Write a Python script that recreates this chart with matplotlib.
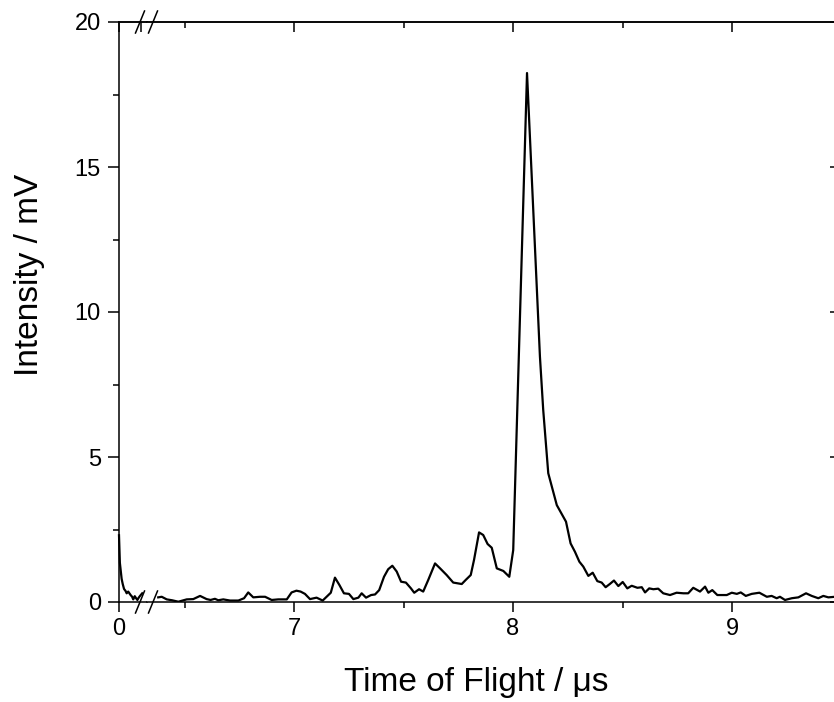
import matplotlib
matplotlib.use("Agg")
import matplotlib.pyplot as plt
from matplotlib.lines import Line2D
from matplotlib.ticker import MultipleLocator, FixedLocator

plt.rcParams['font.family'] = ['Liberation Sans', 'DejaVu Sans']

# start of the trace (left of the axis break), time in us, intensity in mV
t_start = [0.000, 0.004, 0.012, 0.017, 0.023, 0.030, 0.035, 0.042, 0.053,
           0.060, 0.065, 0.072, 0.078, 0.084, 0.090, 0.096, 0.106]
v_start = [2.30, 1.35, 0.80, 0.62, 0.45, 0.38, 0.30, 0.36, 0.24,
           0.18, 0.09, 0.20, 0.13, 0.07, 0.15, 0.21, 0.30]

# main part of the trace (right of the axis break)
t_main = [6.380, 6.396, 6.419, 6.443, 6.472, 6.510, 6.540, 6.571, 6.601, 6.619,
          6.639, 6.654, 6.677, 6.708, 6.746, 6.772, 6.791, 6.814, 6.845, 6.868,
          6.898, 6.928, 6.967, 6.989, 7.011, 7.030, 7.050, 7.073, 7.103, 7.131,
          7.168, 7.187, 7.207, 7.228, 7.251, 7.271, 7.294, 7.309, 7.329, 7.352,
          7.370, 7.389, 7.411, 7.430, 7.449, 7.469, 7.489, 7.511, 7.534, 7.549,
          7.571, 7.590, 7.613, 7.644, 7.667, 7.697, 7.727, 7.766, 7.784, 7.807,
          7.822, 7.845, 7.864, 7.884, 7.903, 7.926, 7.956, 7.983, 8.001, 8.064,
          8.123, 8.138, 8.161, 8.200, 8.242, 8.263, 8.283, 8.303, 8.321, 8.344,
          8.364, 8.385, 8.405, 8.423, 8.442, 8.461, 8.481, 8.501, 8.522, 8.542,
          8.568, 8.588, 8.603, 8.622, 8.641, 8.663, 8.686, 8.717, 8.747, 8.778,
          8.800, 8.823, 8.854, 8.877, 8.892, 8.910, 8.933, 8.955, 8.976, 8.999,
          9.022, 9.040, 9.063, 9.090, 9.125, 9.159, 9.181, 9.204, 9.219, 9.242,
          9.273, 9.303, 9.338, 9.364, 9.394, 9.417, 9.440, 9.466, 9.495]
v_main = [0.16, 0.18, 0.09, 0.06, 0.01, 0.09, 0.10, 0.21, 0.10, 0.07,
          0.11, 0.06, 0.09, 0.05, 0.05, 0.13, 0.33, 0.16, 0.18, 0.18,
          0.07, 0.09, 0.09, 0.33, 0.39, 0.36, 0.28, 0.10, 0.15, 0.05,
          0.32, 0.84, 0.59, 0.30, 0.28, 0.10, 0.15, 0.30, 0.15, 0.24,
          0.26, 0.41, 0.87, 1.13, 1.25, 1.05, 0.70, 0.67, 0.47, 0.32,
          0.44, 0.36, 0.76, 1.33, 1.16, 0.93, 0.67, 0.62, 0.76, 0.93,
          1.45, 2.40, 2.31, 2.00, 1.87, 1.16, 1.07, 0.87, 1.79, 18.24,
          8.46, 6.62, 4.44, 3.34, 2.77, 2.02, 1.73, 1.39, 1.22, 0.90,
          1.01, 0.72, 0.67, 0.51, 0.62, 0.74, 0.55, 0.69, 0.47, 0.56,
          0.49, 0.51, 0.33, 0.47, 0.44, 0.46, 0.30, 0.24, 0.32, 0.30,
          0.30, 0.49, 0.36, 0.53, 0.32, 0.41, 0.24, 0.24, 0.24, 0.32,
          0.28, 0.33, 0.21, 0.28, 0.32, 0.18, 0.21, 0.13, 0.18, 0.07,
          0.13, 0.16, 0.30, 0.21, 0.13, 0.21, 0.16, 0.18, 0.18]

y_ticks = [0, 5, 10, 15, 20]
x_ticks_start = [0]
x_ticks_main = [7, 8, 9]
x_minor_main = [6.5, 7.5, 8.5, 9.5]

W, H = 834, 702
fig = plt.figure(figsize=(W / 100, H / 100), dpi=100)


def px_box(x0, x1, y0, y1):
    return [x0 / W, 1 - y1 / H, (x1 - x0) / W, (y1 - y0) / H]


px_per_us = 219.0
x_zero = 119.0
x_split = 147.3
x_right = 839.5
ax0 = fig.add_axes(px_box(x_zero, x_split, 22, 602))
ax1 = fig.add_axes(px_box(x_split, x_right, 22, 602))

lw_axis = 1.1
lw_data = 1.6
tick_fs = 17
for ax in (ax0, ax1):
    for s in ax.spines.values():
        s.set_linewidth(lw_axis)
    ax.set_ylim(0, 20)
    ax.yaxis.set_major_locator(FixedLocator(y_ticks))
    ax.yaxis.set_minor_locator(MultipleLocator(2.5))

ax0.spines['right'].set_visible(False)
ax1.spines['left'].set_visible(False)

ax0.plot(t_start, v_start, color='black', lw=lw_data, clip_on=False)
ax1.plot(t_main, v_main, color='black', lw=lw_data)

ax0.set_xlim(0, (x_split - x_zero) / px_per_us)
ax1.set_xlim(7 - (294 - x_split) / px_per_us, 7 - (294 - x_right) / px_per_us)

# left axis: outward ticks with labels
ax0.tick_params(axis='y', which='both', direction='out', labelsize=tick_fs,
                width=lw_axis, right=False, pad=5)
ax0.tick_params(axis='y', which='major', length=8)
ax0.tick_params(axis='y', which='minor', length=4.5)
ax1.yaxis.tick_right()
ax1.tick_params(axis='y', which='both', direction='in', labelright=False,
                left=False, width=lw_axis)
ax1.tick_params(axis='y', which='major', length=7)
ax1.tick_params(axis='y', which='minor', length=4)

ax0.xaxis.set_major_locator(FixedLocator(x_ticks_start))
ax1.xaxis.set_major_locator(FixedLocator(x_ticks_main))
ax1.xaxis.set_minor_locator(FixedLocator(x_minor_main))
for ax in (ax0, ax1):
    ax.tick_params(axis='x', which='both', direction='out', labelsize=tick_fs,
                   width=lw_axis, top=False, pad=4)
    ax.tick_params(axis='x', which='major', length=7.5)
    ax.tick_params(axis='x', which='minor', length=4)
    top = ax.secondary_xaxis('top')
    top.spines['top'].set_linewidth(lw_axis)
    top.tick_params(axis='x', which='both', direction='in', labeltop=False,
                    width=lw_axis)
    top.tick_params(axis='x', which='major', length=7.5)
    top.tick_params(axis='x', which='minor', length=4)
top.xaxis.set_major_locator(FixedLocator(x_ticks_main))
top.xaxis.set_minor_locator(FixedLocator(x_minor_main))

fig.text(30 / W, 1 - 275 / H, 'Intensity / mV', fontsize=24, rotation=90,
         ha='center', va='center')
fig.text(476 / W, 1 - 682 / H, 'Time of Flight / \u03bcs', fontsize=24,
         ha='center', va='center')

# break marks on top and bottom axes
for yc in (22, 602):
    for x0 in (135.5, 148.5):
        fig.add_artist(Line2D([x0 / W, (x0 + 9) / W],
                              [1 - (yc + 11) / H, 1 - (yc - 11) / H],
                              color='black', lw=lw_axis))

fig.savefig('out.png', dpi=100)
